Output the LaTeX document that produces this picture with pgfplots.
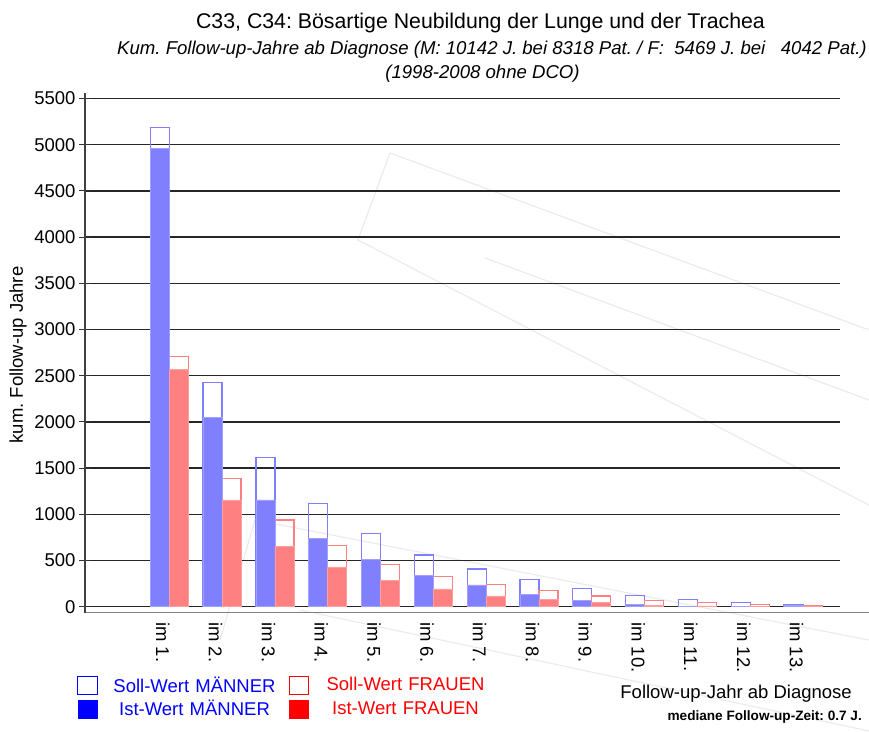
\documentclass[border=0pt]{standalone}
\usepackage{pgfplots}
\pgfplotsset{compat=1.18}
\usepackage{fontspec}
\setmainfont{Liberation Sans}
\frenchspacing
\definecolor{mbar}{HTML}{8080FF}
\definecolor{medge}{HTML}{A0A0FF}
\definecolor{fbar}{HTML}{FF8080}
\definecolor{fedge}{HTML}{FFA0A0}
\definecolor{wm}{HTML}{EBEBEB}
\newcommand{\fs}{\fontsize{18.5}{21}\selectfont}
\begin{document}
\begin{tikzpicture}
% faint background decoration
\draw[wm, line width=1.2pt] (390pt,-153pt) -- (869pt,-330pt);
\draw[wm, line width=1.2pt] (390pt,-153pt) -- (358pt,-240pt) -- (869pt,-505pt);
\draw[wm, line width=1.2pt] (485pt,-258pt) -- (869pt,-400pt);
\draw[wm, line width=1.2pt] (255pt,-520pt) -- (869pt,-640pt);
\draw[wm, line width=1.2pt] (255pt,-520pt) -- (220pt,-640pt);
\draw[wm, line width=1.2pt] (300pt,-610pt) -- (869pt,-731pt);
\begin{axis}[
  at={(85pt,-612.7pt)}, anchor=south west,
  scale only axis, width=755pt, height=519.7pt,
  xmin=-0.597, xmax=13.70, ymin=-65, ymax=5560,
  axis x line=bottom, axis y line=left,
  x axis line style={-, draw=black!50, line width=1.5pt},
  y axis line style={-, draw=black!75, line width=1.2pt},
  ytick={0,500,...,5500},
  ymajorgrids, grid style={black!85, line width=1.4pt},
  tick align=center, major tick length=12pt,
  ytick style={black!80, line width=1pt},
  xtick={0.877,1.877,2.877,3.877,4.877,5.877,6.877,7.877,8.877,9.877,10.877,11.877,12.877},
  xtick style={draw=none},
  xticklabels={im 1.,im 2.,im 3.,im 4.,im 5.,im 6.,im 7.,im 8.,im 9.,im 10.,im 11.,im 12.,im 13.},
  xticklabel style={rotate=-90, anchor=west, font=\fs},
  yticklabel style={font=\fs},
  /pgf/number format/assume math mode=true,
  /pgf/number format/1000 sep={},
  ylabel={kum. Follow-up Jahre},
  ylabel style={at={(axis description cs:-0.0887,0.496)}, anchor=center, font=\fs},
  xlabel={Follow-up-Jahr ab Diagnose},
  xlabel style={at={(axis description cs:1.0159,-0.1564)}, anchor=east, inner sep=0pt, font=\fs},
  legend columns=2,
  legend style={draw=none, fill=none, at={(axis description cs:0,0)}, anchor=north west,
    xshift=-7.5pt, yshift=-62.8pt, inner sep=0pt, outer sep=0pt, font=\fs,
    nodes={text width=170pt, align=center, inner sep=0pt},
    row sep=5pt,
    /tikz/every odd column/.append style={column sep=12pt},
    /tikz/every even column/.append style={column sep=9pt}},
  legend image code/.code={\draw[#1] (0pt,-9pt) rectangle (19pt,9pt);},
  clip=false,
]
% Soll (outline) bars
\addplot[ybar, bar width=19pt, bar shift=-9.5pt, draw=mbar, line width=1.3pt, fill=none, forget plot]
  coordinates {(1,5184) (2,2424) (3,1613) (4,1115) (5,790) (6,560) (7,408) (8,292) (9,195) (10,119) (11,80) (12,47) (13,18)};
\addplot[ybar, bar width=19pt, bar shift=9.5pt, draw=fbar, line width=1.3pt, fill=none, forget plot]
  coordinates {(1,2706) (2,1390) (3,938) (4,664) (5,455) (6,325) (7,242) (8,177) (9,116) (10,69) (11,47) (12,26) (13,12)};
% Ist (filled) bars
\addplot[ybar, bar width=19pt, bar shift=-9.5pt, draw=medge, line width=0.8pt, fill=mbar, forget plot]
  coordinates {(1,4957) (2,2045) (3,1155) (4,740) (5,516) (6,336) (7,235) (8,137) (9,72) (10,26) (11,7) (12,4) (13,15)};
\addplot[ybar, bar width=19pt, bar shift=9.5pt, draw=fedge, line width=0.8pt, fill=fbar, forget plot]
  coordinates {(1,2569) (2,1155) (3,657) (4,430) (5,289) (6,192) (7,116) (8,83) (9,43) (10,15) (11,8) (12,4) (13,3)};
% legend
\addlegendimage{draw=blue, line width=1pt, fill=white}
\addlegendentry[text=blue]{Soll-Wert MÄNNER}
\addlegendimage{draw=red, line width=1pt, fill=white}
\addlegendentry[text=red]{Soll-Wert FRAUEN}
\addlegendimage{draw=blue, fill=blue}
\addlegendentry[text=blue]{Ist-Wert MÄNNER}
\addlegendimage{draw=red, fill=red}
\addlegendentry[text=red]{Ist-Wert FRAUEN}
\draw[black!50, line width=1.5pt] (rel axis cs:1,0) -- ([xshift=29pt]rel axis cs:1,0);
\end{axis}
\node[font=\fontsize{21.3}{24}\selectfont, anchor=base] at (480.5pt,-28pt) {C33, C34: Bösartige Neubildung der Lunge und der Trachea};
\node[font=\fontsize{18.6}{21}\selectfont\itshape, anchor=base] at (492pt,-54pt) {Kum. Follow-up-Jahre ab Diagnose (M: 10142 J. bei 8318 Pat. / F: \ 5469 J. bei \ \ 4042 Pat.)};
\node[font=\fontsize{18.6}{21}\selectfont\itshape, anchor=base] at (482.5pt,-78pt) {(1998-2008 ohne DCO)};
\node[font=\fontsize{13.6}{16}\selectfont\bfseries, anchor=east, inner sep=0pt] at (862pt,-717pt) {mediane Follow-up-Zeit: 0.7 J.};
\pgfresetboundingbox
\path[use as bounding box] (0,0) rectangle (869pt,-731pt);
\end{tikzpicture}
\end{document}
